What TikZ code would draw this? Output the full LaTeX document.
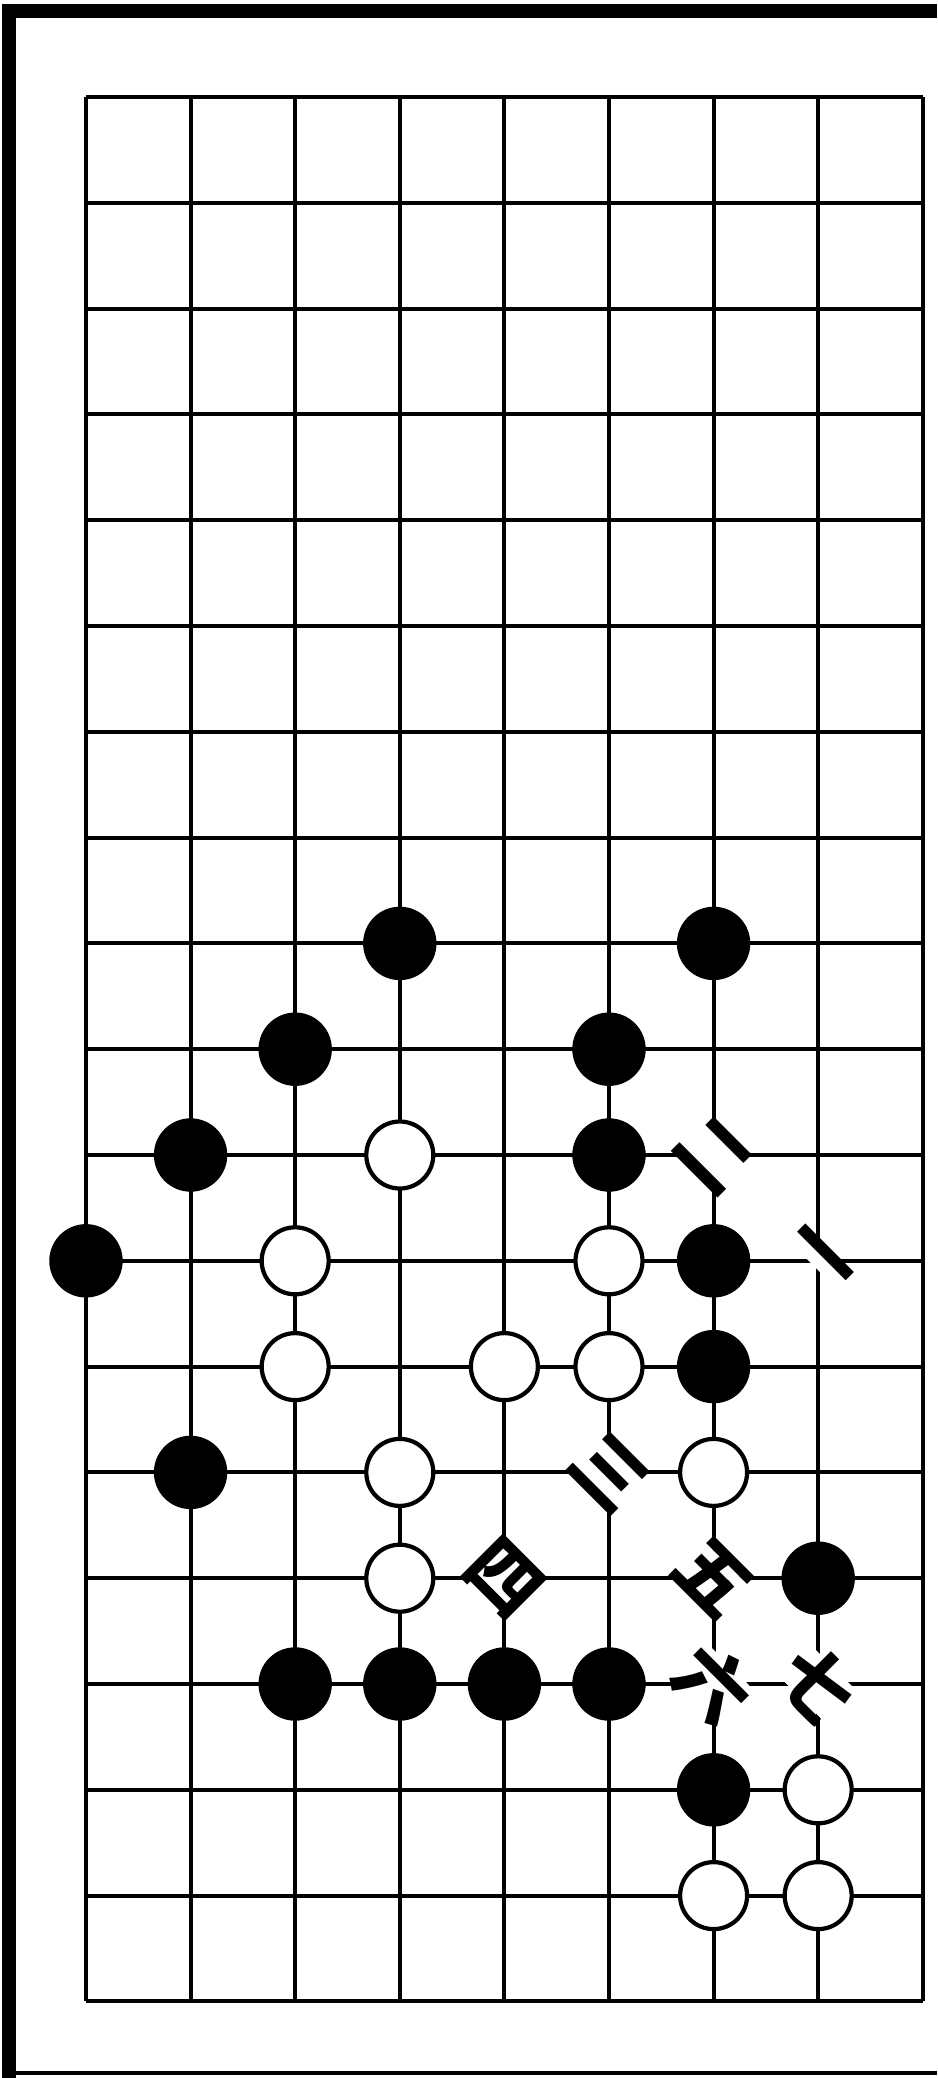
\documentclass[tikz,border=0pt]{standalone}
\usepackage{fontspec}
\newfontfamily\cjk{Noto Sans CJK TC}
\usetikzlibrary{positioning}

\begin{document}
\begin{tikzpicture}[
        x=1.046cm, y=-1.058cm,
        gridline/.style={
          draw=black,
          line width=1.15pt
        },
        framerule/.style={
          draw=black,
          line width=4pt
        },
        blackstone/.style={
          circle,
          draw=black,
          fill=black,
          minimum size=0.72cm,
          inner sep=0pt
        },
        whitestone/.style={
          circle,
          draw=black,
          fill=white,
          line width=1.2pt,
          minimum size=0.67cm,
          inner sep=0pt
        },
        movenum/.style={
          font=\cjk\bfseries\fontsize{21}{21}\selectfont,
          rotate=-45,
          fill=white,
          inner sep=-3pt
        }
      ]
      \useasboundingbox (-0.822,-0.917) rectangle (8.136,18.724);

      % Frame
      \draw [framerule] (-0.736,18.724) -- (-0.736,-0.813) -- (8.136,-0.813);
      \draw [draw=black, line width=1.2pt] (-0.736,18.68) -- (8.136,18.68);

      % Grid
      \foreach \i in {0,...,8}
        \draw [gridline] (\i,0) -- (\i,18);
      \foreach \j in {0,...,18}
        \draw [gridline] (0,\j) -- (8,\j);

      % Black stones
      \foreach \c/\r in {3/8, 6/8, 2/9, 5/9, 1/10, 5/10, 0/11, 6/11, 6/12,
                         1/13, 7/14, 2/15, 3/15, 4/15, 5/15, 6/16}
        \node [blackstone] (b-\c-\r) at (\c,\r) {};

      % White stones
      \foreach \c/\r in {3/10, 2/11, 5/11, 2/12, 4/12, 5/12, 3/13, 6/13,
                         3/14, 7/16, 6/17, 7/17}
        \node [whitestone] (w-\c-\r) at (\c,\r) {};

      % Move numbers
      \node [movenum] (m1) at (7,11) {一};
      \node [movenum] (m2) at (6,10) {二};
      \node [movenum] (m3) at (5,13) {三};
      \node [movenum] (m4) at (4,14) {四};
      \node [movenum] (m5) at (6,14) {五};
      \node [movenum] (m6) at (6,15) {六};
      \node [movenum] (m7) at (7,15) {七};

    \end{tikzpicture}
\end{document}
